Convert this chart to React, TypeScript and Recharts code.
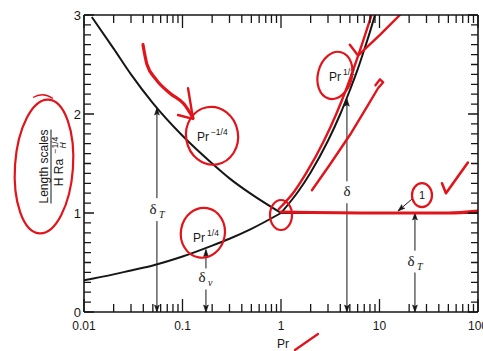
import React from 'react';
import { LineChart, Line, XAxis, YAxis, ReferenceDot, ReferenceLine } from 'recharts';

// ---------- tick definitions ----------
const xMajorTicks = [0.01, 0.1, 1, 10, 100];
const xMajorLabels = ['0.01', '0.1', '1', '10', '100'];
const xMinorMultipliers = [2, 3, 4, 5, 6, 7, 8, 9];
const yMajorTicks = [0, 1, 2, 3];
const yMajorLabels = ['0', '1', '2', '3'];
const yMinorPerUnit = [0.1, 0.2, 0.3, 0.4, 0.5, 0.6, 0.7, 0.8, 0.9];

// ---------- curves ----------
const prLowT = [0.012, 0.02, 0.03, 0.05, 0.1, 0.2, 0.3, 0.5, 1];
const deltaTLow = [2.98, 2.66, 2.4, 2.11, 1.78, 1.5, 1.35, 1.19, 1.0];
const prLowV = [0.01, 0.02, 0.03, 0.05, 0.1, 0.2, 0.3, 0.5, 1];
const deltaVLow = [0.32, 0.38, 0.42, 0.47, 0.56, 0.67, 0.74, 0.84, 1.0];
const prHigh = [1, 1.5, 2, 3, 4, 5, 6, 7, 8, 9];
const deltaHigh = [1, 1.22, 1.41, 1.73, 2.0, 2.24, 2.45, 2.65, 2.83, 3.0];
const prFlat = [1, 100];
const deltaTHigh = [1, 1];

// ---------- red hand annotations (data coordinates) ----------
const redFlatPr = [1, 10, 50, 100];
const redFlatV = [1.01, 1.0, 1.0, 1.02];
const redRisePr = [0.95, 1.37, 1.82, 2.73, 3.64, 4.55, 6.37, 8.3];
const redRiseV = [1.04, 1.22, 1.41, 1.73, 2.0, 2.24, 2.65, 3.0];
const redCheckTopPr = [5.0, 6.05, 10.1, 16.1];
const redCheckTopV = [2.7, 2.59, 2.8, 3.0];
const redLowerPr = [2.06, 3.14, 5.02, 7.64, 9.66, 10.9, 10.1, 9.1];
const redLowerV = [1.23, 1.49, 1.79, 2.09, 2.26, 2.32, 2.35, 2.29];
const redHookPr = [0.0397, 0.0436, 0.0538, 0.0746, 0.1036, 0.128];
const redHookV = [2.7, 2.5, 2.35, 2.21, 2.1, 1.96];
const redHookHeadPr = [0.1138, 0.128, 0.09];
const redHookHeadV = [2.26, 1.95, 1.99];
const redCheckOnePr = [43.1, 47.3, 79];
const redCheckOneV = [1.3, 1.2, 1.51];

const ellipsePr = [0.1995, 0.161, 1.0, 3.53, 27];
const ellipseV = [1.78, 0.8, 0.98, 2.39, 1.18];
const ellipseStyle = [
  { rx: 26, ry: 29, rot: -10 },
  { rx: 22, ry: 25, rot: 10 },
  { rx: 11, ry: 15, rot: 0 },
  { rx: 17, ry: 24, rot: 15 },
  { rx: 10, ry: 12, rot: 0 },
];

// ---------- text labels ----------
const powerLabelPr = [0.14, 0.128, 3.07];
const powerLabelV = [1.73, 0.71, 2.33];
const powerLabelExp = ['\u22121/4', '1/4', '1/2'];

const deltaLabelPr = [0.055, 0.173, 4.67, 22.9];
const deltaLabelV = [1.03, 0.34, 1.21, 0.51];
const deltaLabelSub = ['T', 'v', '', 'T'];

// arrows: pr, from value, to value (head at "to")
const arrowPr = [0.055, 0.055, 0.173, 0.173, 4.67, 4.67, 22.9, 22.9];
const arrowFrom = [0.92, 1.15, 0.44, 0.23, 1.11, 1.32, 0.42, 0.62];
const arrowTo = [0.0, 2.06, 0.63, 0.0, 0.0, 2.15, 0.0, 1.0];

const oneLabelPr = 27;
const oneLabelV = 1.18;
const oneArrowFrom = { pr: 21.9, v: 1.15 };
const oneArrowTo = { pr: 15.4, v: 1.02 };

// ---------- layout / styles ----------
const FONT = '"Liberation Sans", Arial, Helvetica, sans-serif';
const SERIF = '"Liberation Serif", "DejaVu Serif", serif';
const INK = '#161616';
const RED = '#e2141b';
const CHART_W = 483;
const CHART_H = 351;
const MARGIN = { top: 14, right: 4, bottom: 0, left: 0 };
const TOP_AXIS_H = 1;
const RIGHT_AXIS_W = 1;
const LEFT_AXIS_W = 84;
const BOTTOM_AXIS_H = 39;
const PLOT_TOP = MARGIN.top + TOP_AXIS_H;
const PLOT_RIGHT = CHART_W - MARGIN.right - RIGHT_AXIS_W;
const X_MAJOR_LEN = 13;
const X_MINOR_LEN = 8;
const Y_MAJOR_LEN = 10;
const Y_MINOR_LEN = 7;

const pts = (xs: number[], ys: number[]) => xs.map((x, i) => ({ pr: x, v: ys[i] }));

const allXTicks: number[] = xMajorTicks.flatMap((m, i) =>
  i < xMajorTicks.length - 1 ? [m, ...xMinorMultipliers.map((k) => +(m * k).toPrecision(6))] : [m]
);
const allYTicks: number[] = yMajorTicks.flatMap((m, i) =>
  i < yMajorTicks.length - 1 ? [m, ...yMinorPerUnit.map((k) => +(m + k).toFixed(2))] : [m]
);

const xMin = xMajorTicks[0];
const xMax = xMajorTicks[xMajorTicks.length - 1];
const yMin = yMajorTicks[0];
const yMax = yMajorTicks[yMajorTicks.length - 1];

const xLabelOf = (v: number) => {
  const i = xMajorTicks.findIndex((m) => Math.abs(v / m - 1) < 1e-6);
  return i >= 0 ? xMajorLabels[i] : null;
};
const yLabelOf = (v: number) => {
  const i = yMajorTicks.findIndex((m) => Math.abs(v - m) < 1e-6);
  return i >= 0 ? yMajorLabels[i] : null;
};

const BottomLabel = (p: any) => (
  <text x={p.x} y={p.y + 18} textAnchor="middle" fontSize={12} fontFamily={FONT} fill={INK}>
    {xLabelOf(p.payload.value) || ''}
  </text>
);
const LeftLabel = (p: any) => (
  <text x={p.x - 3} y={p.y + 4.5} textAnchor="end" fontSize={13} fontFamily={FONT} fill={INK}>
    {yLabelOf(p.payload.value) || ''}
  </text>
);

// X-axis title ("Pr" + red check) and the inward tick marks on the bottom and top edges,
// positioned along the axis box the library hands to the label.
const XTitle = (props: any) => {
  const vb = props.viewBox || { x: LEFT_AXIS_W, y: CHART_H - BOTTOM_AXIS_H, width: PLOT_RIGHT - LEFT_AXIS_W, height: BOTTOM_AXIS_H };
  const lx0 = Math.log10(xMin);
  const lx1 = Math.log10(xMax);
  const px = (t: number) => vb.x + (vb.width * (Math.log10(t) - lx0)) / (lx1 - lx0);
  const bottom = vb.y;
  let d = '';
  allXTicks.forEach((t) => {
    const len = xLabelOf(t) ? X_MAJOR_LEN : X_MINOR_LEN;
    const x = px(t).toFixed(2);
    d += `M ${x} ${bottom} L ${x} ${bottom - len} M ${x} ${PLOT_TOP} L ${x} ${PLOT_TOP + len} `;
  });
  const cx = vb.x + vb.width / 2 + 2;
  const by = vb.y + 36;
  return (
    <g>
      <path d={d} stroke={INK} strokeWidth={1.3} fill="none" />
      <text x={cx} y={by} textAnchor="middle" fontSize={12} fontFamily={FONT} fill={INK}>
        Pr
      </text>
      <path d={`M ${cx + 12} ${by + 2} L ${cx + 22} ${by - 5} L ${cx + 35} ${by - 14}`} fill="none" stroke={RED} strokeWidth={2.2} strokeLinecap="round" />
    </g>
  );
};

// Y-axis title and the inward tick marks on the left and right edges.
const YTitle = (props: any) => {
  const vb = props.viewBox || { x: 0, y: PLOT_TOP, width: LEFT_AXIS_W, height: CHART_H - BOTTOM_AXIS_H - PLOT_TOP };
  const py = (t: number) => vb.y + (vb.height * (yMax - t)) / (yMax - yMin);
  const left = vb.x + vb.width;
  let d = '';
  allYTicks.forEach((t) => {
    const len = yLabelOf(t) ? Y_MAJOR_LEN : Y_MINOR_LEN;
    const y = py(t).toFixed(2);
    d += `M ${left} ${y} L ${left + len} ${y} M ${PLOT_RIGHT} ${y} L ${PLOT_RIGHT - len} ${y} `;
  });
  const cx = vb.x + 51;
  const cy = vb.y + vb.height / 2 + 3;
  return (
    <g>
      <path d={d} stroke={INK} strokeWidth={1.3} fill="none" />
      <g transform={`translate(${cx},${cy}) rotate(-90)`}>
        <text x={0} y={-3} textAnchor="middle" fontSize={12} fontFamily={FONT} fill={INK}>
          Length scales
        </text>
        <line x1={-37} x2={37} y1={0} y2={0} stroke={INK} strokeWidth={1} />
        <text x={-6} y={12} textAnchor="middle" fontSize={12} fontFamily={FONT} fill={INK}>
          H Ra
        </text>
        <text x={13} y={7} fontSize={8.5} fontFamily={FONT} fill={INK}>
          {'\u22121/4'}
        </text>
        <text x={18} y={15} fontSize={8.5} fontStyle="italic" fontFamily={FONT} fill={INK}>
          H
        </text>
      </g>
      <ellipse cx={cx - 7} cy={cy} rx={29} ry={67} transform={`rotate(4 ${cx - 7} ${cy})`} fill="none" stroke={RED} strokeWidth={2.2} />
      <path d={`M ${cx - 18} ${cy - 69} Q ${cx - 8} ${cy - 75} ${cx + 2} ${cy - 68}`} fill="none" stroke={RED} strokeWidth={1.4} />
    </g>
  );
};

const arrowHead = (x: number, y: number, dx: number, dy: number) => {
  const len = Math.hypot(dx, dy) || 1;
  const ux = dx / len;
  const uy = dy / len;
  const L = 7;
  const W = 2.4;
  const bx = x - ux * L;
  const by = y - uy * L;
  return `M ${x} ${y} L ${bx - uy * W} ${by + ux * W} L ${bx + ux * 1.5} ${by + uy * 1.5} L ${bx + uy * W} ${by - ux * W} Z`;
};

const ArrowShape = (p: any) => {
  const { x1, y1, x2, y2 } = p;
  return (
    <g>
      <path d={`M ${x1} ${y1} L ${x2} ${y2}`} stroke={INK} strokeWidth={1} fill="none" />
      <path d={arrowHead(+x2, +y2, +x2 - +x1, +y2 - +y1)} fill={INK} stroke={INK} strokeWidth={0.6} />
    </g>
  );
};

const makeEllipse = (i: number) => (p: any) => {
  const s = ellipseStyle[i];
  return (
    <ellipse
      cx={p.cx}
      cy={p.cy}
      rx={s.rx}
      ry={s.ry}
      transform={`rotate(${s.rot} ${p.cx} ${p.cy})`}
      fill="none"
      stroke={RED}
      strokeWidth={2.2}
    />
  );
};

const makePowerLabel = (i: number) => (p: any) => (
  <text x={p.cx} y={p.cy} fontSize={12} fontFamily={FONT} fill={INK}>
    Pr
    <tspan dx={2} dy={-6} fontSize={8.5}>
      {powerLabelExp[i]}
    </tspan>
  </text>
);

const makeDeltaLabel = (i: number) => (p: any) => (
  <g>
    <rect x={p.cx - 7} y={p.cy - 9} width={16} height={20} fill="#fff" />
    <text x={p.cx - (deltaLabelSub[i] ? 4 : 0)} y={p.cy + 4} textAnchor="middle" fontSize={15} fontFamily={SERIF} fill={INK}>
      {'\u03b4'}
    </text>
    {deltaLabelSub[i] ? (
      <text x={p.cx + 2} y={p.cy + 8} fontSize={10} fontStyle="italic" fontFamily={SERIF} fill={INK}>
        {deltaLabelSub[i]}
      </text>
    ) : null}
  </g>
);

const OneLabel = (p: any) => (
  <text x={p.cx} y={p.cy + 4} textAnchor="middle" fontSize={11} fontFamily={FONT} fill={INK}>
    1
  </text>
);

const blackLine = (data: any[], key: string) => (
  <Line key={key} data={data} dataKey="v" type="monotone" stroke={INK} strokeWidth={2} dot={false} isAnimationActive={false} />
);
const redLine = (data: any[], key: string, w = 2.4, type: any = 'monotone') => (
  <Line key={key} data={data} dataKey="v" type={type} stroke={RED} strokeWidth={w} strokeLinecap="round" strokeLinejoin="round" dot={false} isAnimationActive={false} />
);

export default function App() {
  return (
    <div style={{ position: 'absolute', left: 0, top: 0 }}>
      <LineChart width={CHART_W} height={CHART_H} margin={MARGIN}>
        <XAxis
          dataKey="pr"
          type="number"
          scale="log"
          domain={[xMin, xMax]}
          allowDataOverflow
          ticks={xMajorTicks}
          interval={0}
          tick={BottomLabel}
          tickLine={false}
          tickSize={0}
          tickMargin={0}
          height={BOTTOM_AXIS_H}
          axisLine={{ stroke: INK, strokeWidth: 1.6 }}
          label={{ content: XTitle }}
        />
        <XAxis
          xAxisId="top"
          orientation="top"
          dataKey="pr"
          type="number"
          scale="log"
          domain={[xMin, xMax]}
          allowDataOverflow
          ticks={xMajorTicks}
          tick={false}
          tickLine={false}
          height={TOP_AXIS_H}
          axisLine={{ stroke: INK, strokeWidth: 1.6 }}
        />
        <YAxis
          dataKey="v"
          type="number"
          domain={[yMin, yMax]}
          allowDataOverflow
          ticks={yMajorTicks}
          interval={0}
          tick={LeftLabel}
          tickLine={false}
          tickSize={0}
          tickMargin={0}
          width={LEFT_AXIS_W}
          axisLine={{ stroke: INK, strokeWidth: 1.6 }}
          label={{ content: YTitle }}
        />
        <YAxis
          yAxisId="right"
          orientation="right"
          type="number"
          domain={[yMin, yMax]}
          allowDataOverflow
          ticks={yMajorTicks}
          tick={false}
          tickLine={false}
          width={RIGHT_AXIS_W}
          axisLine={{ stroke: INK, strokeWidth: 1.6 }}
        />

        {arrowPr.map((pr, i) => (
          <ReferenceLine
            key={`ar${i}`}
            segment={[
              { x: pr, y: arrowFrom[i] },
              { x: pr, y: arrowTo[i] },
            ]}
            ifOverflow="visible"
            shape={ArrowShape}
          />
        ))}
        <ReferenceLine
          segment={[
            { x: oneArrowFrom.pr, y: oneArrowFrom.v },
            { x: oneArrowTo.pr, y: oneArrowTo.v },
          ]}
          ifOverflow="visible"
          shape={ArrowShape}
        />

        {blackLine(pts(prLowT, deltaTLow), 'b1')}
        {blackLine(pts(prLowV, deltaVLow), 'b2')}
        {blackLine(pts(prHigh, deltaHigh), 'b3')}
        {blackLine(pts(prFlat, deltaTHigh), 'b4')}

        {redLine(pts(redFlatPr, redFlatV), 'r1', 3.2)}
        {redLine(pts(redRisePr, redRiseV), 'r2', 2.4)}
        {redLine(pts(redCheckTopPr, redCheckTopV), 'r3', 2.4, 'linear')}
        {redLine(pts(redLowerPr, redLowerV), 'r4', 2.4, 'linear')}
        {redLine(pts(redHookPr, redHookV), 'r5', 3.2)}
        {redLine(pts(redHookHeadPr, redHookHeadV), 'r6', 2.4, 'linear')}
        {redLine(pts(redCheckOnePr, redCheckOneV), 'r7', 2.6, 'linear')}

        {deltaLabelPr.map((pr, i) => (
          <ReferenceDot key={`dl${i}`} x={pr} y={deltaLabelV[i]} r={1} ifOverflow="visible" shape={makeDeltaLabel(i)} />
        ))}
        {powerLabelPr.map((pr, i) => (
          <ReferenceDot key={`pl${i}`} x={pr} y={powerLabelV[i]} r={1} ifOverflow="visible" shape={makePowerLabel(i)} />
        ))}
        <ReferenceDot x={oneLabelPr} y={oneLabelV} r={1} ifOverflow="visible" shape={OneLabel} />
        {ellipsePr.map((pr, i) => (
          <ReferenceDot key={`el${i}`} x={pr} y={ellipseV[i]} r={1} ifOverflow="visible" shape={makeEllipse(i)} />
        ))}
      </LineChart>
    </div>
  );
}
